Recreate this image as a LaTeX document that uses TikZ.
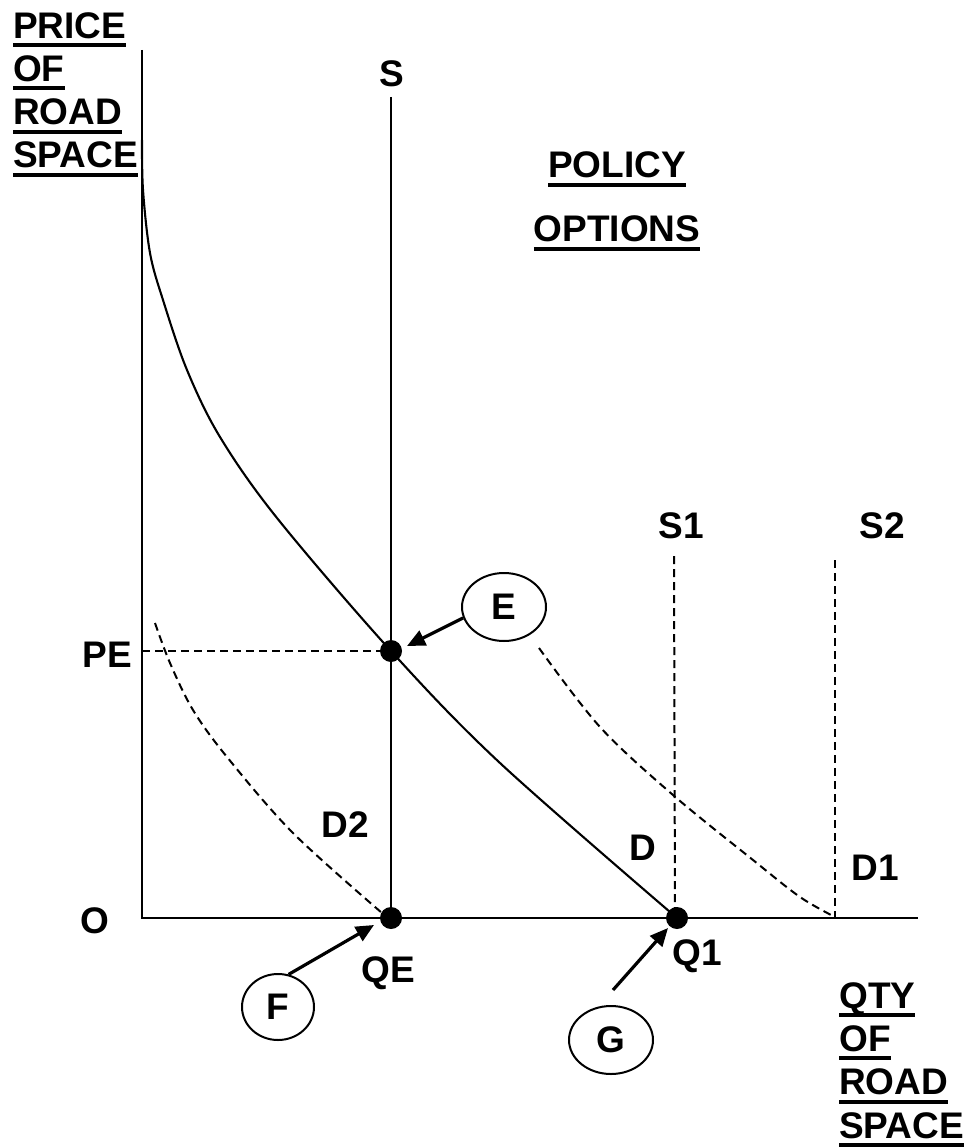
\documentclass[tikz,border=0pt]{standalone}
\usepackage{fontspec}
\setmainfont{Liberation Sans}
\usetikzlibrary{shapes.geometric,arrows.meta}
\newcommand\ulword[1]{\setbox0\hbox{#1}\rlap{\rule[-9pt]{\wd0}{4pt}}\box0}
\begin{document}
\begin{tikzpicture}[x=1pt,y=-1pt,
  txt/.style={font=\fontsize{37}{44}\selectfont\bfseries, inner sep=0pt},
  lbl/.style={txt, anchor=base},
  axis/.style={line width=2.3pt},
  curve/.style={line width=2.1pt},
  dsh/.style={line width=2pt, dash pattern=on 8pt off 5pt},
  dot/.style={circle, fill=black, minimum size=22pt, inner sep=0pt},
  tag/.style={ellipse, draw, line width=2pt, minimum width=84pt, minimum height=68pt, inner sep=0pt, txt},
  ptr/.style={line width=3.2pt, -{Triangle[length=18pt,width=16pt]}},
]
\useasboundingbox (0,0) rectangle (967,1147);

% axes
\coordinate (ytop) at (142,50);
\coordinate (orig) at (142,918);
\coordinate (xend) at (918,918);
\draw[axis] (ytop) -- (orig) -- (xend);

% supply lines
\coordinate (stop) at (391,97);
\coordinate (sbot) at (391,918);
\draw[curve] (stop) -- (sbot);
\coordinate (s1top) at (674,556);
\coordinate (s1bot) at (675,918);
\draw[dsh] (s1top) -- (s1bot);
\coordinate (s2top) at (835,560);
\coordinate (s2bot) at (835,917);
\draw[dsh] (s2top) -- (s2bot);

% PE dashed
\coordinate (peaxis) at (142,651);
\coordinate (pept) at (391,651);
\draw[dsh] (peaxis) -- (pept);

% demand curves
\draw[curve] plot[smooth, tension=0.55] coordinates {(142,140) (143,190) (150,253) (163,300) (187,370) (220,437) (277,518) (391,651) (500,763) (677,918)};
\draw[dsh] plot[smooth, tension=0.55] coordinates {(155,623) (170,663) (193,710) (227,757) (293,833) (382,913)};
\draw[dsh] plot[smooth, tension=0.55] coordinates {(539,648) (600,727) (673,795) (753,860) (800,897) (835,917)};

% dots
\node[dot] (pe) at (391,651) {};
\node[dot] (qe) at (391,918) {};
\node[dot] (q1) at (677,918) {};

% labels
\node[lbl] (lS) at (392,87) {S};
\node[lbl] (lS1) at (681,538) {S1};
\node[lbl] (lS2) at (882,538) {S2};
\node[lbl] (lPE) at (107,667) {PE};
\node[lbl] (lO) at (95,933) {O};
\node[lbl] (lD2) at (345,837) {D2};
\node[lbl] (lD) at (643,860) {D};
\node[lbl] (lD1) at (875,880) {D1};
\node[lbl] (lQE) at (388,982) {QE};
\node[lbl] (lQ1) at (697,965) {Q1};
\node[lbl] (policy) at (617,178) {\ulword{POLICY}};
\node[lbl] (options) at (617,242) {\ulword{OPTIONS}};

\node[txt, anchor=base west] (ytitle) at (13,168)
  {\vbox{\baselineskip=43.3pt\hbox{\ulword{PRICE}}\hbox{\ulword{OF}}\hbox{\ulword{ROAD}}\hbox{\ulword{SPACE}}}};
\node[txt, anchor=base west] (xtitle) at (839,1138)
  {\vbox{\baselineskip=43.3pt\hbox{\ulword{QTY}}\hbox{\ulword{OF}}\hbox{\ulword{ROAD}}\hbox{\ulword{SPACE}}}};

% policy tags
\node[tag] (eE) at (504,607) {E};
\node[tag, minimum width=72pt, minimum height=66pt] (eF) at (278,1007) {F};
\node[tag] (eG) at (611,1040) {G};

\coordinate (tipE) at (407,646);
\coordinate (tipF) at (374,925);
\coordinate (startG) at (613,990);
\coordinate (tipG) at (668,928);
\draw[ptr] (eE.195) -- (tipE);
\draw[ptr] (eF.72) -- (tipF);
\draw[ptr] (startG) -- (tipG);
\end{tikzpicture}
\end{document}
